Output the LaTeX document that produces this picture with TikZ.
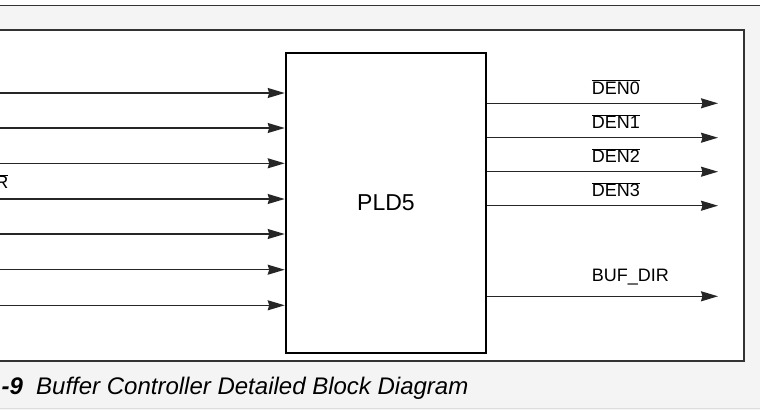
\documentclass[tikz,border=0pt]{standalone}
\usepackage{fontspec}
\setmainfont{Liberation Sans}
\usetikzlibrary{arrows.meta}
\definecolor{pagegray}{HTML}{F4F4F4}
\definecolor{framegray}{HTML}{333333}
\definecolor{rulegray}{HTML}{DDDDDD}
\newcommand\ovl[1]{$\overline{\hbox{#1}}$}
\tikzset{
  sig/.style={draw=black!85, line width=1.4pt, -{Stealth[length=17pt,width=10pt,inset=1.5pt]}},
  siglabel/.style={anchor=base west, inner sep=0pt, font=\fontsize{18}{21}\selectfont},
  pldbox/.style={draw=black, line width=2.6pt, fill=white, minimum width=200pt, minimum height=300pt, inner sep=0pt, font=\fontsize{23}{27}\selectfont},
  captext/.style={anchor=base west, inner sep=0pt, font=\fontsize{24}{28}\selectfont\itshape}
}
\begin{document}
\begin{tikzpicture}[x=1pt,y=-1pt]
\useasboundingbox (0,0) rectangle (760,410);
% page background
\fill[white] (0,0) rectangle (760,410);
\fill[pagegray] (0,6) rectangle (760,410);
\draw[framegray, line width=1.5pt] (-5,5.7) -- (765,5.7);
\draw[rulegray, line width=1.2pt] (-5,408.5) -- (765,408.5);
% white frame
\draw[framegray, line width=1.5pt, fill=white] (-10,30) rectangle (744,361);
% block
\node[pldbox] (pld) at (386,203) {PLD5};
% inputs
\foreach \i/\y in {1/93,2/128,3/163.3,4/199,5/234,6/269.7,7/305.3}{
  \coordinate (in\i) at (-3,\y);
  \draw[sig] (in\i) -- (in\i -| pld.west);
}
\node[anchor=base east, inner sep=0pt, font=\fontsize{18}{21}\selectfont] (lblR) at (8.5,188.5) {\ovl{R}};
% outputs
\foreach \i/\y in {0/103.3,1/137.7,2/171.7,3/205.7}{
  \coordinate (out\i) at (718,\y);
  \draw[sig] (pld.east |- out\i) -- (out\i);
  \node[siglabel] (den\i) at (591.7,\y-9) {\ovl{DEN\i}};
}
\coordinate (outB) at (718,296.3);
\draw[sig] (pld.east |- outB) -- (outB);
\node[siglabel] (bufdir) at (591.7,281.7) {BUF\_DIR};
% caption
\node[captext, font=\fontsize{24}{28}\selectfont\bfseries\itshape] (capnum) at (1.5,394) {-9};
\node[captext] (captxt) at (36,394) {Buffer Controller Detailed Block Diagram};
\end{tikzpicture}
\end{document}
